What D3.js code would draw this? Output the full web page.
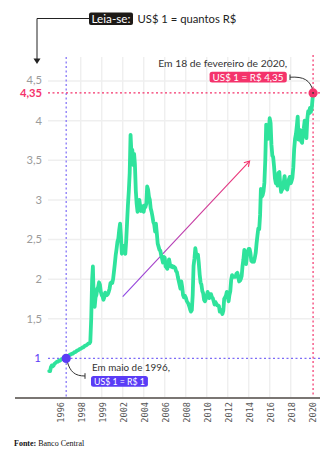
<!doctype html>
<html>
<head>
<meta charset="utf-8">
<style>
  body { margin: 0; background: #fff; }
  svg { display: block; }
</style>
</head>
<body>
<svg width="329" height="454" font-family="Lato, sans-serif"></svg>
<script src="https://d3js.org/d3.v7.min.js"></script>
<script>
  // dólar comercial, média mensal (R$ por US$), jan/1995 a fev/2020
  let firstMonth = "1995-01";
  let rate = [
    0.84, 0.84, 0.89, 0.91, 0.90, 0.91, 0.93, 0.94, 0.95, 0.96, 0.96, 0.97, // 1995
    0.97, 0.98, 0.99, 0.99, 1.00, 1.00, 1.01, 1.02, 1.02, 1.02, 1.03, 1.04, // 1996
    1.05, 1.05, 1.06, 1.06, 1.07, 1.08, 1.08, 1.09, 1.10, 1.10, 1.11, 1.12, // 1997
    1.12, 1.13, 1.14, 1.14, 1.15, 1.16, 1.16, 1.17, 1.18, 1.19, 1.19, 1.21, // 1998
    1.50, 1.98, 2.16, 1.69, 1.65, 1.77, 1.80, 1.88, 1.90, 1.96, 1.93, 1.84, // 1999
    1.80, 1.78, 1.74, 1.77, 1.83, 1.81, 1.80, 1.81, 1.84, 1.88, 1.95, 1.96, // 2000
    1.95, 2.00, 2.09, 2.19, 2.30, 2.38, 2.47, 2.51, 2.62, 2.70, 2.54, 2.32, // 2001
    2.38, 2.42, 2.35, 2.32, 2.48, 2.71, 2.93, 3.11, 3.34, 3.82, 3.58, 3.63, // 2002
    3.44, 3.58, 3.45, 3.12, 2.95, 2.85, 2.88, 3.00, 2.92, 2.86, 2.91, 2.92, // 2003
    2.85, 2.93, 2.91, 2.95, 3.17, 3.13, 3.04, 3.00, 2.89, 2.85, 2.79, 2.72, // 2004
    2.69, 2.60, 2.70, 2.58, 2.45, 2.41, 2.37, 2.36, 2.30, 2.26, 2.21, 2.28, // 2005
    2.27, 2.16, 2.15, 2.13, 2.18, 2.25, 2.19, 2.16, 2.17, 2.15, 2.16, 2.15, // 2006
    2.14, 2.10, 2.09, 2.03, 1.98, 1.93, 1.88, 1.97, 1.90, 1.80, 1.77, 1.79, // 2007
    1.77, 1.73, 1.71, 1.69, 1.66, 1.62, 1.59, 1.61, 1.80, 2.17, 2.26, 2.39, // 2008
    2.31, 2.31, 2.31, 2.20, 2.06, 1.96, 1.93, 1.85, 1.82, 1.74, 1.72, 1.75, // 2009
    1.78, 1.84, 1.79, 1.76, 1.81, 1.81, 1.77, 1.76, 1.72, 1.68, 1.71, 1.69, // 2010
    1.67, 1.67, 1.66, 1.59, 1.61, 1.59, 1.56, 1.60, 1.75, 1.77, 1.79, 1.84, // 2011
    1.79, 1.72, 1.80, 1.85, 1.99, 2.05, 2.03, 2.03, 2.03, 2.03, 2.07, 2.08, // 2012
    2.03, 1.97, 1.98, 2.00, 2.04, 2.17, 2.25, 2.37, 2.27, 2.19, 2.30, 2.35, // 2013
    2.38, 2.38, 2.33, 2.23, 2.22, 2.23, 2.22, 2.27, 2.33, 2.45, 2.55, 2.64, // 2014
    2.63, 2.81, 3.14, 3.04, 3.06, 3.11, 3.22, 3.51, 3.95, 3.88, 3.77, 3.87, // 2015
    4.03, 3.97, 3.70, 3.56, 3.54, 3.42, 3.27, 3.21, 3.25, 3.18, 3.34, 3.35, // 2016
    3.20, 3.10, 3.13, 3.14, 3.21, 3.30, 3.21, 3.15, 3.13, 3.19, 3.26, 3.29, // 2017
    3.21, 3.24, 3.28, 3.41, 3.64, 3.77, 3.83, 3.93, 4.05, 3.76, 3.79, 3.88, // 2018
    3.74, 3.72, 3.85, 3.90, 4.00, 3.86, 3.78, 4.02, 4.12, 4.09, 4.16, 4.11, // 2019
    4.15, 4.35                                                              // 2020
  ];

  let yTicks = [1.5, 2, 2.5, 3, 3.5, 4, 4.5];
  let xTickYears = [1996, 1998, 2000, 2002, 2004, 2006, 2008, 2010, 2012, 2014, 2016, 2018, 2020];
  let xTickLabels = ["1996", "1998", "1999", "2002", "2004", "2006", "2008", "2010", "2012", "2014", "2016", "2018", "2020"];

  let real = { date: "1996-05", value: 1 };
  let peak = { date: "2020-02-18", value: 4.35 };

  let green = "#2fe39c", purple = "#5a3cf6", pink = "#f4336b";

  let svg = d3.select("svg");
  let parseMonth = d3.timeParse("%Y-%m");
  let parseDay = d3.timeParse("%Y-%m-%d");
  let start = parseMonth(firstMonth);

  let data = rate.map((v, i) => ({ date: d3.timeMonth.offset(start, i), value: v }));
  data[data.length - 1].date = parseDay(peak.date);

  let x = d3.scaleTime()
    .domain([new Date(1996, 0, 1), new Date(2020, 0, 1)])
    .range([59.7, 311.7]);
  let y = d3.scaleLinear()
    .domain([0.5, 4.5])
    .range([398, 81]);

  let plotLeft = 48, plotRight = 320, plotTop = 57;

  // ajusta o corpo da fonte para a largura medida na figura
  function fit(sel, w) {
    let fs = +sel.attr("font-size");
    sel.attr("font-size", fs * w / sel.node().getComputedTextLength());
    return sel;
  }

  // grade
  let grid = svg.append("g").attr("stroke", "#efefef").attr("stroke-width", 1.5);
  grid.selectAll(".v")
    .data(xTickYears.filter(d => d > 1996 && d < 2020))
    .enter().append("line")
    .attr("x1", d => x(new Date(d, 0, 1))).attr("x2", d => x(new Date(d, 0, 1)))
    .attr("y1", plotTop).attr("y2", y(0.5));
  grid.selectAll(".h")
    .data(yTicks)
    .enter().append("line")
    .attr("x1", plotLeft).attr("x2", plotRight)
    .attr("y1", d => y(d)).attr("y2", d => y(d));

  // linhas de referência
  let xReal = x(parseMonth(real.date)) + 3, xPeak = x(parseDay(peak.date));
  svg.append("line")
    .attr("x1", xReal).attr("x2", xReal).attr("y1", plotTop).attr("y2", y(0.5))
    .attr("stroke", "#7d6bf7").attr("stroke-width", 1.2).attr("stroke-dasharray", "2,2.5");
  svg.append("line")
    .attr("x1", plotLeft).attr("x2", plotRight).attr("y1", y(1)).attr("y2", y(1))
    .attr("stroke", "#7d6bf7").attr("stroke-width", 1.2).attr("stroke-dasharray", "2,2.5");
  svg.append("line")
    .attr("x1", xPeak).attr("x2", xPeak).attr("y1", plotTop - 2).attr("y2", y(0.5))
    .attr("stroke", pink).attr("stroke-width", 1.2).attr("stroke-dasharray", "2,2.5");
  svg.append("line")
    .attr("x1", plotLeft).attr("x2", plotRight).attr("y1", y(peak.value)).attr("y2", y(peak.value))
    .attr("stroke", pink).attr("stroke-width", 1.2).attr("stroke-dasharray", "2,2.5");

  // rótulos do eixo y
  svg.append("g")
    .selectAll("text")
    .data(yTicks)
    .enter().append("text")
    .attr("x", 42).attr("y", d => y(d) - (d === 4.5 ? 0.8 : 0)).attr("dy", "0.35em")
    .attr("text-anchor", "end").attr("font-size", 11.2).attr("fill", "#9b9b9b")
    .text(d => String(d).replace(".", ","));
  svg.append("text")
    .attr("x", 41).attr("y", y(1)).attr("dy", "0.35em")
    .attr("text-anchor", "end").attr("font-size", 11.5).attr("fill", purple)
    .text("1");
  svg.append("text")
    .attr("x", 42).attr("y", y(peak.value) + 0.5).attr("dy", "0.35em")
    .attr("text-anchor", "end").attr("font-size", 11.2).attr("font-weight", "bold").attr("fill", pink)
    .text("4,35");

  // seta de tendência
  let defs = svg.append("defs");
  let trendStart = { date: "2002-01", value: 1.78 }, trendEnd = { date: "2014-02", value: 3.49 };
  let tx1 = x(parseMonth(trendStart.date)), ty1 = y(trendStart.value);
  let tx2 = x(parseMonth(trendEnd.date)), ty2 = y(trendEnd.value);
  let grad = defs.append("linearGradient").attr("id", "trend")
    .attr("gradientUnits", "userSpaceOnUse")
    .attr("x1", tx1).attr("y1", ty1).attr("x2", tx2).attr("y2", ty2);
  grad.append("stop").attr("offset", 0).attr("stop-color", "#8b45e6");
  grad.append("stop").attr("offset", 1).attr("stop-color", pink);
  svg.append("line")
    .attr("x1", tx1).attr("y1", ty1).attr("x2", tx2).attr("y2", ty2)
    .attr("stroke", "url(#trend)").attr("stroke-width", 1.1);
  let ang = Math.atan2(ty2 - ty1, tx2 - tx1);
  let head = [ang + 2.6, ang - 2.6].map(a => [tx2 + 6 * Math.cos(a), ty2 + 6 * Math.sin(a)]);
  svg.append("path")
    .attr("d", `M${head[0]}L${tx2},${ty2}L${head[1]}`)
    .attr("fill", "none").attr("stroke", pink).attr("stroke-width", 1.1);

  // série
  svg.append("path")
    .datum(data)
    .attr("fill", "none")
    .attr("stroke", green)
    .attr("stroke-width", 3.8)
    .attr("stroke-linejoin", "round")
    .attr("stroke-linecap", "round")
    .attr("d", d3.line().x(d => x(d.date)).y(d => y(d.value)));

  // eixo x
  svg.append("line")
    .attr("x1", 15).attr("x2", plotRight).attr("y1", y(0.5)).attr("y2", y(0.5))
    .attr("stroke", "#7a7673").attr("stroke-width", 2);
  svg.append("g")
    .selectAll("text")
    .data(xTickYears)
    .enter().append("text")
    .attr("transform", d => `translate(${x(new Date(d, 0, 1)) + 0.8},402) rotate(-90)`)
    .attr("dy", "0.35em")
    .attr("text-anchor", "end")
    .attr("font-family", "'DejaVu Sans Mono', monospace")
    .attr("font-size", 8.6)
    .attr("fill", "#555")
    .text((d, i) => xTickLabels[i]);

  // anotação: fev/2020
  fit(svg.append("text")
    .attr("x", 287).attr("y", 67).attr("text-anchor", "end")
    .attr("font-size", 11).attr("fill", "#333")
    .text("Em 18 de fevereiro de 2020,"), 129);
  let pinkLabel = svg.append("g");
  let pt = fit(pinkLabel.append("text")
    .attr("x", 283.5).attr("y", 80.6).attr("text-anchor", "end")
    .attr("font-size", 11).attr("fill", "#fff")
    .text("US$ 1 = R$ 4,35"), 71);
  let pb = pt.node().getBBox();
  pinkLabel.insert("rect", "text")
    .attr("x", pb.x - 3).attr("y", 71.7).attr("width", pb.width + 6).attr("height", 10.8)
    .attr("rx", 2.5).attr("fill", pink);
  svg.append("path")
    .attr("d", `M290,74.5V80M290,77.2C304,76.5 310,80 ${xPeak},${y(peak.value) - 2}`)
    .attr("fill", "none").attr("stroke", "#333").attr("stroke-width", 1);
  svg.append("circle")
    .attr("cx", xPeak).attr("cy", y(peak.value)).attr("r", 4.6).attr("fill", pink);
  svg.append("circle")
    .attr("cx", xPeak).attr("cy", y(peak.value)).attr("r", 0.9).attr("fill", "#333");

  // anotação: mai/1996
  svg.append("path")
    .attr("d", `M${xReal + 1},${y(1) + 3}C${xReal + 4},372 75,376 85,376M85,373.2V378.8`)
    .attr("fill", "none").attr("stroke", "#333").attr("stroke-width", 1);
  svg.append("circle")
    .attr("cx", xReal).attr("cy", y(1)).attr("r", 4.6).attr("fill", purple);
  fit(svg.append("text")
    .attr("x", 92).attr("y", 371)
    .attr("font-size", 11).attr("fill", "#333")
    .text("Em maio de 1996,"), 78);
  let purpleLabel = svg.append("g");
  let qt = fit(purpleLabel.append("text")
    .attr("x", 94).attr("y", 385.2)
    .attr("font-size", 11).attr("fill", "#fff")
    .text("US$ 1 = R$ 1"), 51);
  let qb = qt.node().getBBox();
  purpleLabel.insert("rect", "text")
    .attr("x", 91).attr("y", 376).attr("width", qb.width + 6).attr("height", 10.8)
    .attr("rx", 2.5).attr("fill", purple);

  // "Leia-se"
  svg.append("path")
    .attr("d", "M89,18.5H37V59")
    .attr("fill", "none").attr("stroke", "#222").attr("stroke-width", 1);
  svg.append("path")
    .attr("d", "M33.5,58.5L40.5,58.5L37,64Z")
    .attr("fill", "#222");
  let leia = svg.append("g");
  let lt = fit(leia.append("text")
    .attr("x", 91.5).attr("y", 23.2)
    .attr("font-size", 12).attr("fill", "#fff")
    .text("Leia-se:"), 39);
  leia.insert("rect", "text")
    .attr("x", 89).attr("y", 12.5).attr("width", 44).attr("height", 12.5)
    .attr("rx", 2).attr("fill", "#1d1a17");
  fit(svg.append("text")
    .attr("x", 137.5).attr("y", 23.2)
    .attr("font-size", 12).attr("fill", "#222")
    .text("US$ 1 = quantos R$"), 99);

  // fonte
  let fonte = svg.append("text")
    .attr("x", 14).attr("y", 446)
    .attr("font-family", "'Liberation Serif', 'Times New Roman', serif")
    .attr("font-size", 8).attr("fill", "#111");
  fonte.append("tspan").attr("font-weight", "bold").text("Fonte: ");
  fonte.append("tspan").text("Banco Central");
</script>
</body>
</html>
